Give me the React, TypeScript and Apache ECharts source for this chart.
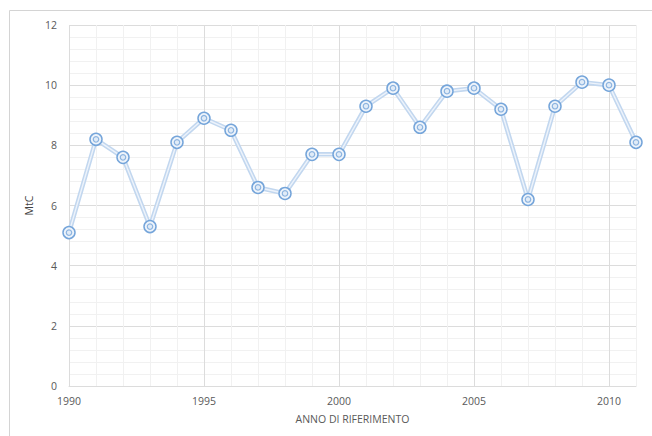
import React, { useEffect, useRef } from "react";
import * as echarts from "echarts";

const years = [1990, 1991, 1992, 1993, 1994, 1995, 1996, 1997, 1998, 1999, 2000, 2001, 2002, 2003, 2004, 2005, 2006, 2007, 2008, 2009, 2010, 2011];
const values = [5.1, 8.2, 7.6, 5.3, 8.1, 8.9, 8.5, 6.6, 6.4, 7.7, 7.7, 9.3, 9.9, 8.6, 9.8, 9.9, 9.2, 6.2, 9.3, 10.1, 10.0, 8.1];
const xTickLabels = [1990, 1995, 2000, 2005, 2010];
const yTickLabels = [0, 2, 4, 6, 8, 10, 12];
const xName = "ANNO DI RIFERIMENTO";
const yName = "MtC";

const MAJOR = "#dcdcdc";
const MINOR = "#f1f1f1";
const FONT = "'Open Sans', 'Noto Sans', sans-serif";

export default function App() {
  const ref = useRef<HTMLDivElement>(null);
  useEffect(() => {
    document.body.style.margin = "0";
    const chart = echarts.init(ref.current!, null, { renderer: "svg" });
    const pts = years.map((y, i) => [y, values[i]]);
    chart.setOption({
      animation: false,
      backgroundColor: "#ffffff",
      graphic: [
        {
          type: "rect",
          shape: { x: 9.5, y: 10.5, width: 800, height: 600 },
          style: { fill: "none", stroke: "#d4d4d4", lineWidth: 1 },
          silent: true,
          z: -10,
        },
      ],
      grid: { left: 69, right: 16, top: 25, bottom: 50 },
      xAxis: {
        type: "value",
        min: years[0],
        max: years[years.length - 1],
        interval: 1,
        name: xName,
        nameLocation: "middle",
        nameGap: 27,
        nameTextStyle: { color: "#595959", fontSize: 10.5, fontFamily: FONT },
        axisLine: { show: true, lineStyle: { color: MAJOR, width: 1 } },
        axisTick: { show: false },
        axisLabel: {
          color: "#595959",
          fontSize: 10.5,
          fontFamily: FONT,
          margin: 9,
          formatter: (v: number) => (xTickLabels.includes(Math.round(v)) ? String(Math.round(v)) : ""),
        },
        splitLine: {
          show: true,
          lineStyle: { color: [MAJOR, MINOR, MINOR, MINOR, MINOR], width: 1 },
        },
      },
      yAxis: {
        type: "value",
        min: 0,
        max: 12,
        interval: 0.4,
        name: yName,
        nameLocation: "middle",
        nameGap: 29,
        nameTextStyle: { color: "#404040", fontSize: 10.5, fontFamily: FONT },
        axisLine: { show: false },
        axisTick: { show: false },
        axisLabel: {
          color: "#595959",
          fontSize: 10.5,
          fontFamily: FONT,
          margin: 12,
          formatter: (v: number) => {
            const r = Math.round(v);
            return Math.abs(v - r) < 1e-6 && yTickLabels.includes(r) ? String(r) : "";
          },
        },
        splitLine: {
          show: true,
          lineStyle: { color: [MAJOR, MINOR, MINOR, MINOR, MINOR], width: 1 },
        },
      },
      series: [
        {
          type: "line",
          data: pts,
          symbol: "none",
          lineStyle: { color: "#c2d7ef", width: 4.5 },
          z: 2,
        },
        {
          type: "line",
          data: pts,
          symbol: "circle",
          symbolSize: 12,
          itemStyle: { color: "#eef4fb", borderColor: "#75a5da", borderWidth: 1.5 },
          lineStyle: { color: "#edf3fb", width: 1.4 },
          z: 3,
        },
        {
          type: "scatter",
          data: pts,
          symbol: "circle",
          symbolSize: 5.5,
          itemStyle: { color: "#dce8f6", borderColor: "#75a5da", borderWidth: 1.2 },
          z: 4,
        },
      ],
    });
    return () => chart.dispose();
  }, []);
  return <div ref={ref} style={{ width: 652, height: 436 }} />;
}
